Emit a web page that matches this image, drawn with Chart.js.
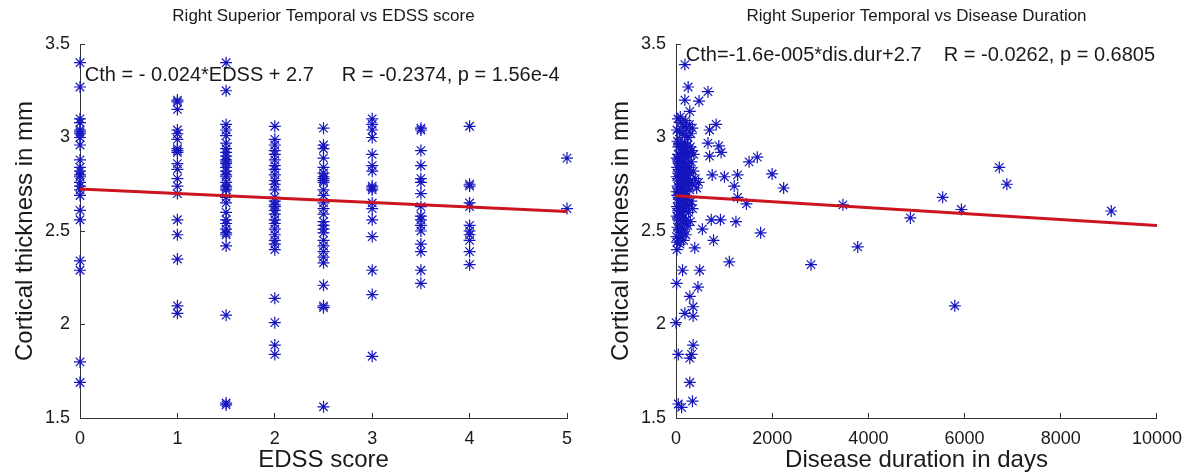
<!DOCTYPE html>
<html>
<head>
<meta charset="utf-8">
<script src="https://cdn.jsdelivr.net/npm/chart.js@4.4.1/dist/chart.umd.min.js"></script>
<style>
  body { margin: 0; background: #fff; }
  .panel { position: absolute; top: 0; height: 476px; }
</style>
</head>
<body>
<div class="panel" style="left:0;width:600px"><canvas id="edss"></canvas></div>
<div class="panel" style="left:596px;width:601px"><canvas id="duration"></canvas></div>
<script>
// EDSS levels and cortical thickness (mm) read per column
const edssLevels = [0, 1, 1.5, 2, 2.5, 3, 3.5, 4, 5];
const cthEdss0 = [3.40, 3.27, 3.10, 3.08, 3.04, 3.03, 3.02, 3.00, 2.96, 2.88, 2.84, 2.82, 2.80, 2.79, 2.76, 2.74, 2.72, 2.69, 2.61, 2.56, 2.34, 2.29, 1.80, 1.69];
const cthEdss1 = [3.20, 3.19, 3.15, 3.04, 3.02, 2.99, 2.94, 2.93, 2.92, 2.86, 2.83, 2.78, 2.74, 2.70, 2.56, 2.48, 2.35, 2.10, 2.06];
const cthEdss15 = [3.40, 3.25, 3.07, 3.04, 3.01, 2.97, 2.94, 2.92, 2.90, 2.88, 2.87, 2.86, 2.84, 2.82, 2.80, 2.79, 2.76, 2.74, 2.73, 2.72, 2.68, 2.65, 2.60, 2.56, 2.54, 2.51, 2.49, 2.48, 2.42, 2.05, 1.58, 1.57];
const cthEdss2 = [3.06, 2.99, 2.96, 2.93, 2.91, 2.88, 2.85, 2.83, 2.80, 2.77, 2.75, 2.72, 2.68, 2.66, 2.64, 2.63, 2.61, 2.59, 2.56, 2.54, 2.51, 2.48, 2.45, 2.43, 2.40, 2.14, 2.01, 1.89, 1.84];
const cthEdss25 = [3.05, 2.96, 2.94, 2.89, 2.84, 2.81, 2.79, 2.78, 2.77, 2.76, 2.72, 2.69, 2.65, 2.62, 2.59, 2.55, 2.53, 2.51, 2.49, 2.45, 2.42, 2.39, 2.36, 2.33, 2.21, 2.10, 2.09, 1.56];
const cthEdss3 = [3.10, 3.07, 3.04, 3.00, 2.91, 2.85, 2.82, 2.74, 2.73, 2.72, 2.65, 2.62, 2.56, 2.47, 2.29, 2.16, 1.83];
const cthEdss35 = [3.05, 3.04, 2.93, 2.85, 2.78, 2.76, 2.70, 2.63, 2.58, 2.56, 2.53, 2.50, 2.43, 2.39, 2.29, 2.22];
const cthEdss4 = [3.06, 2.75, 2.74, 2.65, 2.63, 2.53, 2.50, 2.48, 2.45, 2.39, 2.32];
const cthEdss5 = [2.89, 2.62];
const cthByLevel = [cthEdss0, cthEdss1, cthEdss15, cthEdss2, cthEdss25, cthEdss3, cthEdss35, cthEdss4, cthEdss5];

// disease duration (days) vs cortical thickness (mm)
const durDays = [
  40, 100, 160, 220, 280, 20, 70, 130, 190, 250, 310, 340, 90, 200,
  30, 60, 90, 125, 165, 205, 240, 270, 300, 45, 85, 120, 150, 185, 225, 260, 330, 370,
  15, 40, 65, 100, 130, 170, 200, 230, 280, 320, 25, 55, 80, 110, 145, 180, 210, 250, 290, 360,
  15, 45, 70, 95, 120, 155, 190, 225, 265, 305, 400, 35, 60, 85, 115, 145, 175, 205, 240, 285, 340, 430, 10, 470,
  25, 55, 80, 105, 135, 165, 200, 235, 280, 320, 20, 45, 75, 100, 125, 160, 185, 220, 260, 345,
  15, 40, 65, 95, 120, 155, 180, 215, 245, 300, 30, 60, 85, 115, 145, 175, 205, 10, 55, 105, 160, 20, 80,
  50, 110, 150, 70, 130, 90, 240, 180,
  185, 253, 664, 185, 479, 287, 835, 698, 664, 890, 938, 698, 1520, 1690, 753, 1006, 1280, 1998, 2238, 1211,
  1280, 1465, 733, 924, 1246, 548, 1759, 780, 3470, 3778, 1109, 2807, 20, 390, 137, 493, 14, 458, 287, 356,
  185, 356, 0, 356, 47, 287, 322, 287, 47, 117, 342,
  6721, 6879, 5544, 4873, 5934, 5797, 9049
];
const durCth = [
  3.10, 3.08, 3.06, 3.05, 3.07, 3.04, 3.03, 3.02, 3.01, 3.00, 3.02, 3.05, 3.11, 3.09,
  2.98, 2.97, 2.96, 2.95, 2.94, 2.93, 2.96, 2.92, 2.95, 2.91, 2.90, 2.92, 2.91, 2.90, 2.91, 2.90, 2.93, 2.91,
  2.89, 2.88, 2.87, 2.86, 2.88, 2.87, 2.85, 2.86, 2.84, 2.87, 2.84, 2.83, 2.82, 2.84, 2.83, 2.81, 2.82, 2.83, 2.81, 2.82,
  2.79, 2.78, 2.79, 2.77, 2.78, 2.76, 2.77, 2.78, 2.76, 2.77, 2.78, 2.74, 2.73, 2.75, 2.72, 2.74, 2.73, 2.71, 2.74, 2.72, 2.75, 2.73, 2.71, 2.76,
  2.69, 2.68, 2.67, 2.69, 2.66, 2.68, 2.65, 2.67, 2.64, 2.66, 2.63, 2.62, 2.61, 2.63, 2.60, 2.62, 2.61, 2.63, 2.60, 2.62,
  2.58, 2.57, 2.56, 2.58, 2.55, 2.57, 2.54, 2.56, 2.53, 2.55, 2.52, 2.51, 2.50, 2.52, 2.49, 2.51, 2.48, 2.47, 2.46, 2.47, 2.45, 2.44, 2.43,
  2.95, 2.80, 2.70, 2.65, 2.85, 2.58, 2.80, 2.97,
  3.39, 3.27, 3.245, 3.20, 3.195, 3.14, 3.07, 3.04, 2.97, 2.955, 2.92, 2.90, 2.87, 2.895, 2.80, 2.79, 2.80, 2.805, 2.73, 2.74,
  2.68, 2.645, 2.56, 2.56, 2.55, 2.51, 2.49, 2.45, 2.64, 2.415, 2.335, 2.32, 2.40, 2.41, 2.29, 2.29, 2.22, 2.20, 2.15, 2.095,
  2.06, 2.045, 2.01, 1.89, 1.84, 1.82, 1.84, 1.69, 1.575, 1.557, 1.59,
  2.84, 2.75, 2.68, 2.57, 2.615, 2.10, 2.607
];

// least-squares fit lines (end points)
const fitEdssX = [0, 5];
const fitEdssY = [2.724, 2.604];
const fitDurX = [0, 10000];
const fitDurY = [2.689, 2.529];

const titles = ['Right Superior Temporal vs EDSS score', 'Right Superior Temporal vs Disease Duration'];
const fitTexts = ['Cth = - 0.024*EDSS + 2.7     R = -0.2374, p = 1.56e-4', 'Cth=-1.6e-005*dis.dur+2.7    R = -0.0262, p = 0.6805'];
const fitTextPos = [[0.05, 3.33], [205, 3.44]];

const FONT = '"Liberation Sans", Arial, sans-serif';
const INK = '#1a1a1a';
const STAR = 'rgb(22,22,190)';

const edssPoints = [];
edssLevels.forEach((lvl, i) => cthByLevel[i].forEach(v => edssPoints.push({ x: lvl, y: v })));
const durPoints = durDays.map((d, i) => ({ x: d, y: durCth[i] }));

const textPlugin = {
  id: 'matlabText',
  afterDraw(chart, args, opts) {
    const ctx = chart.ctx;
    const area = chart.chartArea;
    ctx.save();
    ctx.fillStyle = INK;
    ctx.textAlign = 'center';
    ctx.textBaseline = 'middle';
    ctx.font = '17px ' + FONT;
    ctx.fillText(opts.title, (area.left + area.right) / 2, 16);
    ctx.textAlign = 'left';
    ctx.font = '20px ' + FONT;
    ctx.fillText(opts.note, chart.scales.x.getPixelForValue(opts.at[0]), chart.scales.y.getPixelForValue(opts.at[1]));
    ctx.restore();
  }
};

function makeChart(id, points, fitX, fitY, xMax, xStep, xTitle, idx) {
  return new Chart(document.getElementById(id), {
    type: 'scatter',
    data: {
      datasets: [{
        type: 'line',
        data: fitX.map((x, i) => ({ x: x, y: fitY[i] })),
        borderColor: '#cc1420',
        borderWidth: 3,
        pointRadius: 0,
        order: 0
      }, {
        data: points,
        pointStyle: 'star',
        pointRadius: 6,
        borderWidth: 1.2,
        borderColor: STAR,
        backgroundColor: STAR,
        clip: false,
        order: 1
      }]
    },
    options: {
      responsive: true,
      maintainAspectRatio: false,
      animation: false,
      events: [],
      layout: { padding: { top: 44, right: idx === 0 ? 33 : 34, left: 0, bottom: 0 } },
      plugins: {
        legend: { display: false },
        tooltip: { enabled: false },
        matlabText: { title: titles[idx], note: fitTexts[idx], at: fitTextPos[idx] }
      },
      scales: {
        x: {
          type: 'linear',
          min: 0,
          max: xMax,
          afterFit: s => { s.height = 58; },
          border: { display: true, color: '#333', width: 1 },
          grid: { drawOnChartArea: false, drawTicks: true, tickLength: -5, color: '#333' },
          ticks: { stepSize: xStep, padding: 15, color: INK, font: { family: FONT, size: 18 }, maxRotation: 0, callback: v => String(v) },
          title: { display: true, text: xTitle, color: INK, font: { family: FONT, size: 24 }, padding: { top: 0, bottom: 1 } }
        },
        y: {
          type: 'linear',
          min: 1.5,
          max: 3.5,
          afterFit: s => { s.width = 80; },
          border: { display: true, color: '#333', width: 1 },
          grid: { drawOnChartArea: false, drawTicks: true, tickLength: -5, color: '#333' },
          ticks: { stepSize: 0.5, padding: 15, color: INK, font: { family: FONT, size: 18 }, callback: v => String(v) },
          title: { display: true, text: 'Cortical thickness in mm', color: INK, font: { family: FONT, size: 24 }, padding: { top: 11, bottom: 0 } }
        }
      }
    },
    plugins: [textPlugin]
  });
}

makeChart('edss', edssPoints, fitEdssX, fitEdssY, 5, 1, 'EDSS score', 0);
makeChart('duration', durPoints, fitDurX, fitDurY, 10000, 2000, 'Disease duration in days', 1);
</script>
</body>
</html>
